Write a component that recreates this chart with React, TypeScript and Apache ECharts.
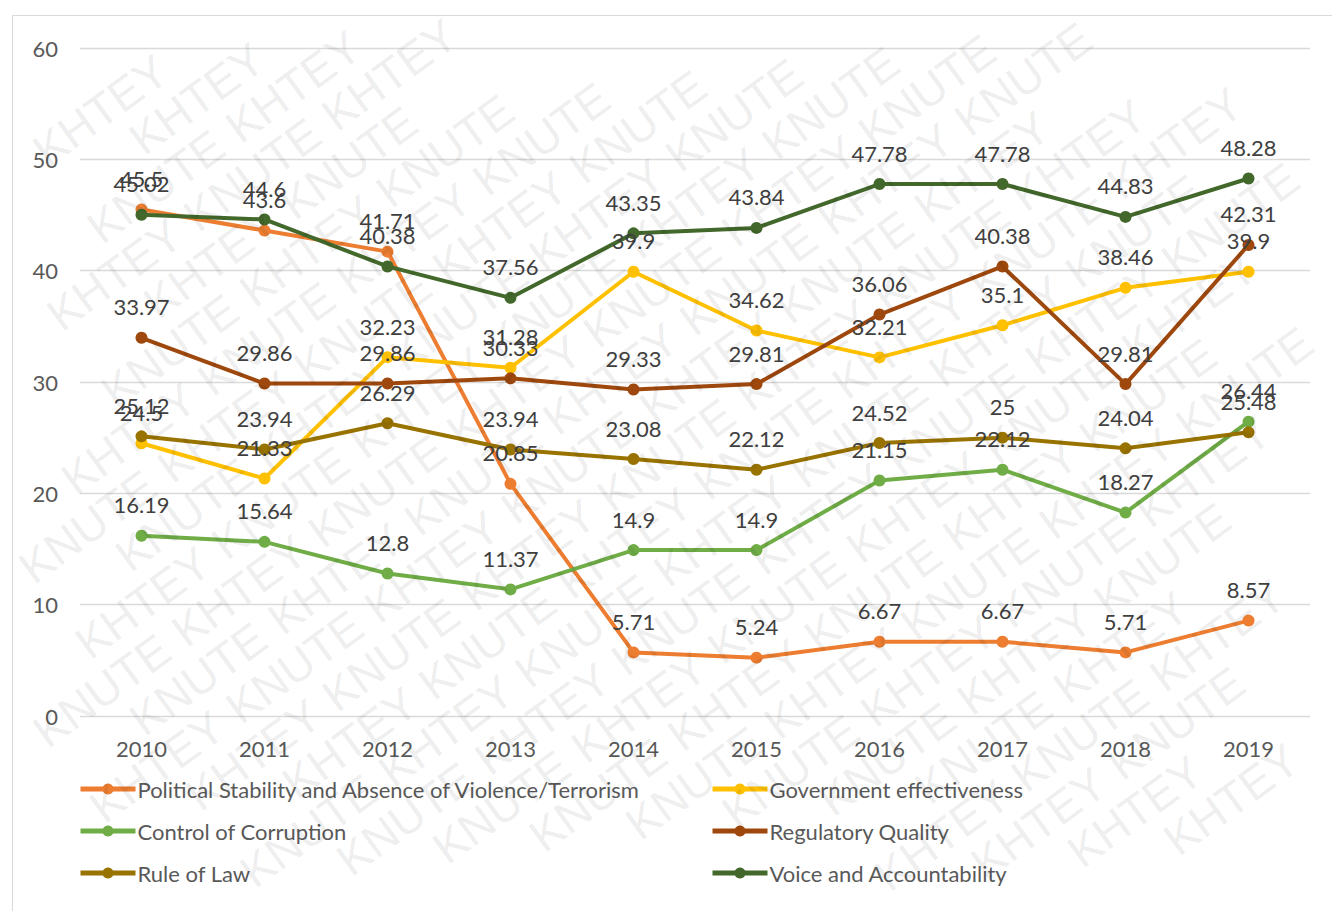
import React, { useEffect, useRef } from "react";
import * as echarts from "echarts";

const years = ["2010", "2011", "2012", "2013", "2014", "2015", "2016", "2017", "2018", "2019"];
const political = [45.5, 43.6, 41.71, 20.85, 5.71, 5.24, 6.67, 6.67, 5.71, 8.57];
const government = [24.5, 21.33, 32.23, 31.28, 39.9, 34.62, 32.21, 35.1, 38.46, 39.9];
const corruption = [16.19, 15.64, 12.8, 11.37, 14.9, 14.9, 21.15, 22.12, 18.27, 26.44];
const regulatory = [33.97, 29.86, 29.86, 30.33, 29.33, 29.81, 36.06, 40.38, 29.81, 42.31];
const ruleOfLaw = [25.12, 23.94, 26.29, 23.94, 23.08, 22.12, 24.52, 25, 24.04, 25.48];
const voice = [45.02, 44.6, 40.38, 37.56, 43.35, 43.84, 47.78, 47.78, 44.83, 48.28];

const seriesNames = [
  "Political Stability and Absence of Violence/Terrorism",
  "Government effectiveness",
  "Control of Corruption",
  "Regulatory Quality",
  "Rule of Law",
  "Voice and Accountability",
];
const seriesData = [political, government, corruption, regulatory, ruleOfLaw, voice];
const colors = ["#ED7D31", "#FFC000", "#70AD47", "#9E480E", "#997300", "#43682B"];
const watermarkWords = ["KNUTE", "KHTEY"];

const FONT = "Lato, 'Open Sans', sans-serif";
const W = 1332;
const H = 911;

function watermark() {
  const th = (36 * Math.PI) / 180;
  const c = Math.cos(th);
  const s = Math.sin(th);
  const fs = 46;
  const w = 160;
  const h = 58;
  const hx = (w / 2) * c + (h / 2) * s;
  const hy = (w / 2) * s + (h / 2) * c;
  const step = 170;
  const rowGap = 47;
  const cx0 = 666;
  const cy0 = 455;
  const els: any[] = [];
  for (let r = -30; r <= 30; r++) {
    for (let k = -14; k <= 14; k++) {
      const u = k * step + (Math.abs(r) % 2 === 1 ? step / 2 : 0);
      const v = r * rowGap;
      const x = cx0 + u * c + v * s;
      const y = cy0 - u * s + v * c;
      if (x - hx < 1 || x + hx > W - 1 || y - hy < 1 || y + hy > H - 1) continue;
      const idx = (k + Math.floor(r / 2) + 200) % 2;
      els.push({
        type: "text",
        x,
        y,
        rotation: th,
        silent: true,
        z: 100,
        style: {
          text: watermarkWords[idx],
          fontSize: fs,
          fontFamily: "'Liberation Sans', sans-serif",
          fill: "rgba(0,0,0,0.085)",
          align: "center",
          verticalAlign: "middle",
        },
      });
    }
  }
  return els;
}

export default function App() {
  const ref = useRef<HTMLDivElement>(null);
  useEffect(() => {
    if (!ref.current) return;
    const chart = echarts.init(ref.current, undefined, { renderer: "svg" });
    const legendText = { fontSize: 22, color: "#595959", fontFamily: FONT, lineHeight: 24, padding: [0, 0, 0, -3] };
    chart.setOption({
      animation: false,
      backgroundColor: "#ffffff",
      color: colors,
      grid: { left: 80, right: 22, top: 48, bottom: 195, containLabel: false },
      xAxis: {
        type: "category",
        data: years,
        boundaryGap: true,
        axisLine: { show: false },
        axisTick: { show: false },
        axisLabel: { fontSize: 22, color: "#595959", fontFamily: FONT, margin: 21 },
      },
      yAxis: {
        type: "value",
        min: 0,
        max: 60,
        interval: 10,
        axisLine: { show: false },
        axisTick: { show: false },
        splitLine: { lineStyle: { color: "#d9d9d9", width: 1.3 } },
        axisLabel: { fontSize: 22, color: "#595959", fontFamily: FONT, margin: 22 },
      },
      legend: [
        {
          data: [seriesNames[0], seriesNames[2], seriesNames[4]],
          orient: "vertical",
          left: 73,
          top: 772,
          itemWidth: 55,
          itemHeight: 14,
          itemGap: 18,
          lineStyle: { width: 5 },
          textStyle: legendText,
        },
        {
          data: [seriesNames[1], seriesNames[3], seriesNames[5]],
          orient: "vertical",
          left: 705,
          top: 772,
          itemWidth: 55,
          itemHeight: 14,
          itemGap: 18,
          lineStyle: { width: 5 },
          textStyle: legendText,
        },
      ],
      graphic: [
        {
          type: "rect",
          shape: { x: 12.5, y: 15.5, width: 1330, height: 910 },
          style: { fill: "none", stroke: "#d9d9d9", lineWidth: 1 },
          silent: true,
          z: -1,
        },
        ...watermark(),
      ],
      series: seriesNames.map((name, i) => ({
        name,
        type: "line",
        data: seriesData[i],
        symbol: "circle",
        symbolSize: 12,
        lineStyle: { width: 4, color: colors[i] },
        itemStyle: { color: colors[i] },
        label: {
          show: true,
          position: "top",
          distance: 14,
          fontSize: 22,
          color: "#404040",
          fontFamily: FONT,
        },
        labelLayout: { hideOverlap: false },
      })),
    });
    return () => chart.dispose();
  }, []);
  return <div ref={ref} style={{ width: W, height: H, position: "absolute", left: 0, top: 0 }} />;
}
